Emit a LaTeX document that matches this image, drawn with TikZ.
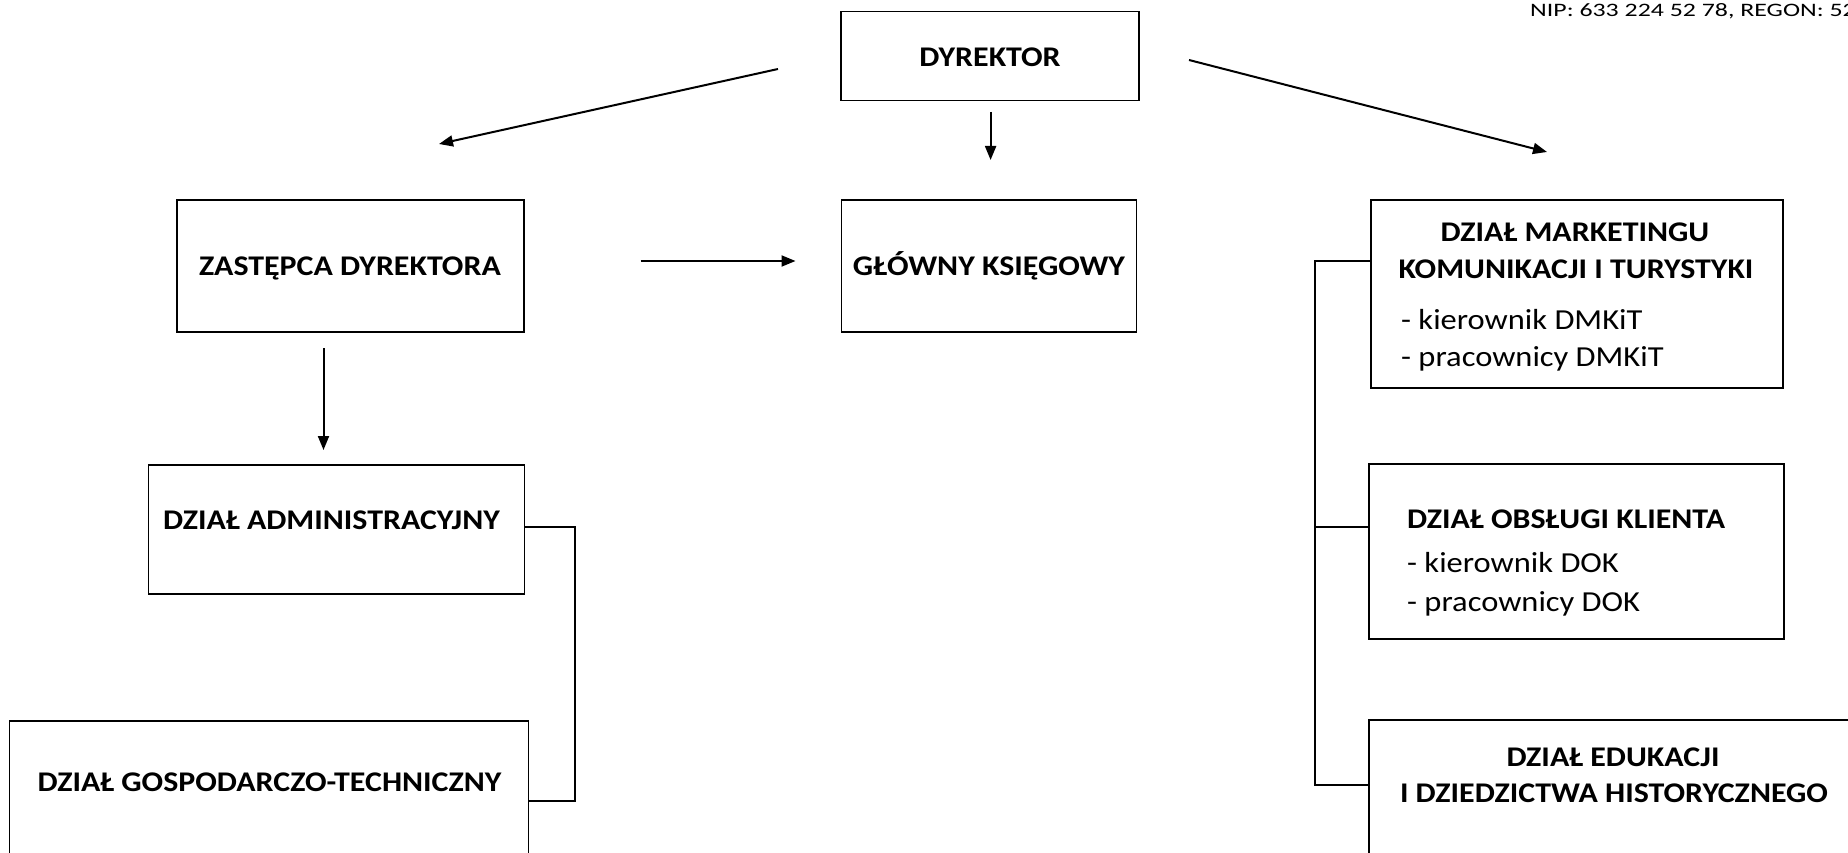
\documentclass[tikz,border=0pt]{standalone}
\usepackage{fontspec}
\setmainfont{Carlito}
\newfontfamily\stretchfont[FakeStretch=1.12]{Carlito}
\newfontfamily\nipfont[FakeStretch=1.36]{Carlito}
\usetikzlibrary{arrows.meta}
\tikzset{
  box/.style={draw=black, line width=1.8pt, rectangle, inner sep=0pt},
  ttl/.style={anchor=base, inner sep=0pt, font=\stretchfont\bfseries\fontsize{28.5}{34}\selectfont},
  ttll/.style={anchor=base west, inner sep=0pt, font=\stretchfont\bfseries\fontsize{28.5}{34}\selectfont},
  sub/.style={anchor=base west, inner sep=0pt, font=\stretchfont\fontsize{29}{34}\selectfont},
  arr/.style={line width=2pt, -{Triangle[length=14pt,width=11pt]}},
  conn/.style={line width=2.4pt}
}
\begin{document}
\begin{tikzpicture}[x=1pt,y=-1pt]
\useasboundingbox (0,0) rectangle (1848,853);
\clip (0,0) rectangle (1848,853);
% boxes
\node[box, minimum width=298pt, minimum height=89pt] (dyr) at (990,56) {};
\node[box, minimum width=347pt, minimum height=132pt] (zast) at (350.5,266) {};
\node[box, minimum width=295pt, minimum height=132pt] (glow) at (989,266) {};
\node[box, minimum width=412pt, minimum height=188pt] (mark) at (1577,294) {};
\node[box, minimum width=376pt, minimum height=129pt] (admin) at (336.5,529.5) {};
\node[box, minimum width=519pt, minimum height=160pt] (gosp) at (269,801) {};
\node[box, minimum width=415pt, minimum height=175pt] (obs) at (1576.5,551.5) {};
\node[box, minimum width=520pt, minimum height=160pt] (edu) at (1629,800) {};
% texts
\node[ttl] (tdyr) at (990,67) {DYREKTOR};
\node[ttl] (tzast) at (350,276) {ZASTĘPCA DYREKTORA};
\node[ttl] (tglow) at (989,276) {GŁÓWNY KSIĘGOWY};
\node[ttl] (tm1) at (1575,242) {DZIAŁ MARKETINGU};
\node[ttl] (tm2) at (1576,279) {KOMUNIKACJI I TURYSTYKI};
\node[sub] (tm3) at (1401,329) {- kierownik DMKiT};
\node[sub] (tm4) at (1401,366) {- pracownicy DMKiT};
\node[ttl] (tadm) at (331.5,529) {DZIAŁ ADMINISTRACYJNY};
\node[ttl] (tgosp) at (269.5,791) {DZIAŁ GOSPODARCZO-TECHNICZNY};
\node[ttll] (to1) at (1407,528) {DZIAŁ OBSŁUGI KLIENTA};
\node[sub] (to2) at (1407,572) {- kierownik DOK};
\node[sub] (to3) at (1407,611) {- pracownicy DOK};
\node[ttl] (te1) at (1613,766) {DZIAŁ EDUKACJI};
\node[ttl] (te2) at (1614,802) {I DZIEDZICTWA HISTORYCZNEGO};
\node[anchor=base west, inner sep=0pt, font=\nipfont\fontsize{19}{22}\selectfont] (nip) at (1530,17) {NIP: 633 224 52 78, REGON: 520};
% arrow endpoints
\coordinate (a1s) at (778,69);  \coordinate (a1e) at (439,144);
\coordinate (a2s) at (990.6,112); \coordinate (a2e) at (990.6,160);
\coordinate (a3s) at (1189,60); \coordinate (a3e) at (1547,152);
\coordinate (a4s) at (640.5,261); \coordinate (a4e) at (795.5,261);
\coordinate (a5s) at (323.5,348); \coordinate (a5e) at (323.5,450);
\draw[arr] (a1s) -- (a1e);
\draw[arr] (a2s) -- (a2e);
\draw[arr] (a3s) -- (a3e);
\draw[arr] (a4s) -- (a4e);
\draw[arr] (a5s) -- (a5e);
% left bracket
\coordinate (lb1) at (575,527);
\coordinate (lb2) at (575,801);
\draw[conn] (lb1 -| admin.east) -- (lb1) -- (lb2) -- (gosp.east);
% right bracket
\coordinate (rb1) at (1314.7,261);
\coordinate (rb2) at (1314.7,527);
\coordinate (rb3) at (1314.7,785);
\draw[conn] (rb1 -| mark.west) -- (rb1) -- (rb3) -- (rb3 -| edu.west);
\draw[conn] (rb2) -- (rb2 -| obs.west);
\end{tikzpicture}
\end{document}
